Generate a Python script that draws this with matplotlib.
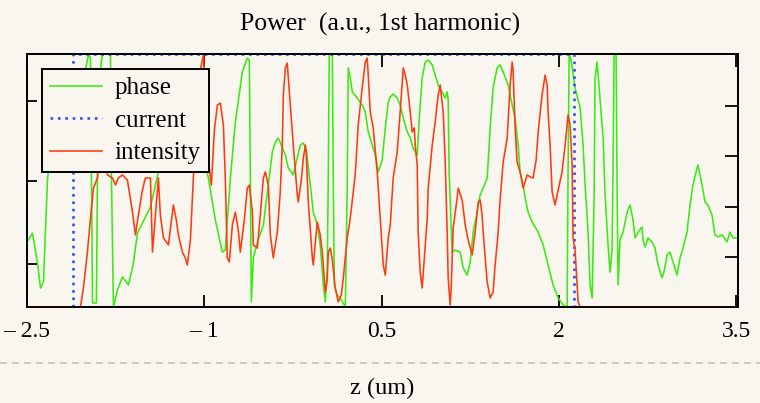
import matplotlib
matplotlib.use("Agg")
import matplotlib.pyplot as plt
from matplotlib.lines import Line2D

plt.rcParams['font.family'] = ['Liberation Serif', 'DejaVu Serif']

# --- data (z in um, power in a.u. scaled to plot height) ---
phase_z = [-2.50, -2.454, -2.411, -2.386, -2.361, -2.344, -2.327, -2.259, -2.175, -2.090,
           -2.006, -1.980, -1.963, -1.955, -1.946, -1.913, -1.904, -1.879, -1.862, -1.794,
           -1.786, -1.769, -1.735, -1.693, -1.642, -1.600, -1.566, -1.541, -1.456, -1.414,
           -1.287, -1.161, -1.034, -0.966, -0.907, -0.848, -0.823, -0.780, -0.738, -0.679,
           -0.637, -0.620, -0.611, -0.603, -0.586, -0.552, -0.501, -0.459, -0.425, -0.400,
           -0.375, -0.315, -0.290, -0.248, -0.214, -0.189, -0.163, -0.138, -0.104, -0.079,
           -0.045, -0.020, 0.006, 0.023, 0.039, 0.048, 0.056, 0.082, 0.090, 0.099,
           0.124, 0.149, 0.192, 0.208, 0.217, 0.234, 0.251, 0.293, 0.335, 0.361,
           0.386, 0.420, 0.445, 0.470, 0.504, 0.530, 0.555, 0.572, 0.597, 0.631,
           0.656, 0.682, 0.716, 0.741, 0.766, 0.800, 0.808, 0.825, 0.842, 0.868,
           0.893, 0.927, 0.952, 0.977, 1.011, 1.037, 1.054, 1.062, 1.070, 1.096,
           1.121, 1.163, 1.189, 1.223, 1.248, 1.273, 1.307, 1.332, 1.358, 1.392,
           1.417, 1.442, 1.476, 1.501, 1.527, 1.561, 1.569, 1.603, 1.628, 1.654,
           1.670, 1.696, 1.713, 1.738, 1.772, 1.823, 1.865, 1.907, 1.949, 1.992,
           2.034, 2.068, 2.076, 2.085, 2.101, 2.135, 2.178, 2.203, 2.220, 2.245,
           2.262, 2.279, 2.296, 2.304, 2.321, 2.347, 2.372, 2.389, 2.414, 2.431,
           2.448, 2.456, 2.465, 2.482, 2.490, 2.499, 2.515, 2.541, 2.575, 2.600,
           2.625, 2.642, 2.668, 2.701, 2.710, 2.727, 2.752, 2.786, 2.811, 2.837,
           2.870, 2.887, 2.913, 2.938, 2.963, 2.997, 3.023, 3.048, 3.082, 3.107,
           3.132, 3.166, 3.175, 3.209, 3.234, 3.259, 3.293, 3.318, 3.344, 3.378,
           3.420, 3.445, 3.471, 3.504]
phase_v = [0.257, 0.292, 0.174, 0.075, 0.099, 0.304, 0.502, 0.779, 0.700, 0.818,
           0.937, 0.996, 0.984, 0.522, 0.016, 0.016, 0.522, 0.937, 1.0, 1.0,
           0.522, 0.0, 0.067, 0.119, 0.087, 0.174, 0.292, 0.316, 0.395, 0.482,
           0.739, 0.779, 0.660, 0.510, 0.344, 0.217, 0.225, 0.510, 0.731, 0.929,
           0.984, 0.976, 0.510, 0.020, 0.194, 0.257, 0.324, 0.482, 0.613, 0.652,
           0.668, 0.601, 0.549, 0.522, 0.589, 0.640, 0.648, 0.621, 0.482, 0.375,
           0.324, 0.245, 0.087, 0.020, 0.146, 0.510, 1.0, 1.0, 0.510, 0.087,
           0.047, 0.036, 0.0, 0.470, 0.945, 0.905, 0.850, 0.826, 0.798, 0.771,
           0.692, 0.640, 0.601, 0.534, 0.581, 0.708, 0.810, 0.830, 0.842, 0.826,
           0.798, 0.747, 0.692, 0.668, 0.628, 0.601, 0.668, 0.798, 0.905, 0.968,
           0.976, 0.957, 0.917, 0.877, 0.850, 0.826, 0.850, 0.818, 0.534, 0.217,
           0.225, 0.217, 0.154, 0.126, 0.178, 0.296, 0.375, 0.443, 0.470, 0.510,
           0.708, 0.866, 0.945, 0.957, 0.929, 0.889, 0.877, 0.798, 0.747, 0.640,
           0.534, 0.482, 0.431, 0.375, 0.336, 0.296, 0.245, 0.166, 0.087, 0.036,
           0.008, 0.0, 0.534, 1.0, 0.976, 0.866, 0.787, 0.640, 0.482, 0.296,
           0.087, 0.036, 0.423, 0.905, 0.968, 0.818, 0.668, 0.443, 0.245, 0.138,
           0.225, 0.534, 1.0, 1.0, 0.502, 0.087, 0.265, 0.296, 0.375, 0.403,
           0.344, 0.273, 0.296, 0.316, 0.265, 0.237, 0.273, 0.257, 0.233, 0.166,
           0.115, 0.138, 0.206, 0.217, 0.178, 0.126, 0.194, 0.233, 0.296, 0.403,
           0.482, 0.549, 0.561, 0.482, 0.415, 0.403, 0.364, 0.285, 0.277, 0.285,
           0.257, 0.296, 0.273, 0.273]

# current is a flat-top pulse (zero outside it, hidden under the red trace)
current_z = [-2.107, -2.107, 2.127, 2.127]
current_v = [0.0, 1.0, 1.0, 0.0]

intensity_z = [-2.50, -2.048, -2.023, -1.989, -1.963, -1.938, -1.904, -1.879, -1.853, -1.820,
               -1.777, -1.752, -1.727, -1.693, -1.651, -1.608, -1.583, -1.558, -1.524, -1.499,
               -1.456, -1.439, -1.414, -1.389, -1.372, -1.346, -1.304, -1.262, -1.237, -1.220,
               -1.186, -1.161, -1.144, -1.118, -1.093, -1.068, -1.034, -1.008, -0.992, -0.966,
               -0.941, -0.915, -0.890, -0.865, -0.839, -0.823, -0.806, -0.789, -0.763, -0.738,
               -0.713, -0.696, -0.662, -0.637, -0.620, -0.594, -0.586, -0.552, -0.527, -0.501,
               -0.484, -0.459, -0.442, -0.417, -0.383, -0.358, -0.341, -0.332, -0.315, -0.299,
               -0.290, -0.273, -0.248, -0.214, -0.206, -0.180, -0.163, -0.146, -0.138, -0.121,
               -0.087, -0.079, -0.045, -0.020, -0.003, 0.023, 0.039, 0.048, 0.065, 0.082,
               0.107, 0.132, 0.158, 0.175, 0.208, 0.234, 0.259, 0.276, 0.301, 0.335,
               0.361, 0.377, 0.386, 0.403, 0.428, 0.462, 0.487, 0.513, 0.530, 0.555,
               0.572, 0.597, 0.631, 0.656, 0.682, 0.699, 0.716, 0.741, 0.758, 0.775,
               0.783, 0.800, 0.808, 0.825, 0.842, 0.859, 0.885, 0.893, 0.927, 0.952,
               0.977, 0.994, 1.020, 1.037, 1.054, 1.062, 1.079, 1.087, 1.104, 1.138,
               1.147, 1.180, 1.206, 1.231, 1.265, 1.290, 1.316, 1.332, 1.349, 1.358,
               1.375, 1.392, 1.417, 1.442, 1.459, 1.485, 1.501, 1.527, 1.561, 1.586,
               1.603, 1.611, 1.628, 1.645, 1.670, 1.696, 1.730, 1.755, 1.780, 1.806,
               1.823, 1.856, 1.882, 1.899, 1.907, 1.924, 1.941, 1.966, 1.992, 2.025,
               2.051, 2.068, 2.076, 2.093, 2.110, 2.118, 2.135, 2.152, 2.161, 2.178,
               3.51]
intensity_v = [0, 0, 0.075, 0.217, 0.352, 0.470, 0.510, 0.700, 0.660, 0.522,
               0.510, 0.482, 0.510, 0.522, 0.502, 0.375, 0.285, 0.364, 0.462, 0.510,
               0.510, 0.217, 0.364, 0.510, 0.364, 0.273, 0.245, 0.403, 0.344, 0.285,
               0.217, 0.194, 0.166, 0.265, 0.510, 0.739, 0.937, 0.996, 0.858, 0.581,
               0.482, 0.700, 0.798, 0.806, 0.719, 0.510, 0.194, 0.178, 0.324, 0.375,
               0.304, 0.217, 0.344, 0.470, 0.482, 0.375, 0.245, 0.233, 0.364, 0.510,
               0.534, 0.482, 0.285, 0.194, 0.296, 0.455, 0.640, 0.838, 0.945, 0.964,
               0.905, 0.798, 0.640, 0.443, 0.415, 0.502, 0.589, 0.640, 0.601, 0.415,
               0.194, 0.166, 0.336, 0.285, 0.217, 0.059, 0.107, 0.217, 0.233, 0.186,
               0.075, 0.020, 0.047, 0.115, 0.273, 0.352, 0.455, 0.522, 0.719, 0.866,
               0.968, 0.984, 0.917, 0.771, 0.708, 0.534, 0.352, 0.166, 0.126, 0.273,
               0.324, 0.510, 0.613, 0.771, 0.945, 0.917, 0.877, 0.771, 0.692, 0.708,
               0.640, 0.561, 0.296, 0.138, 0.075, 0.186, 0.352, 0.470, 0.640, 0.731,
               0.838, 0.877, 0.771, 0.573, 0.285, 0.115, 0.008, 0.067, 0.312, 0.431,
               0.470, 0.423, 0.324, 0.265, 0.206, 0.296, 0.415, 0.423, 0.364, 0.296,
               0.194, 0.099, 0.036, 0.059, 0.166, 0.296, 0.423, 0.573, 0.668, 0.877,
               0.968, 0.937, 0.708, 0.573, 0.534, 0.470, 0.522, 0.514, 0.510, 0.581,
               0.692, 0.838, 0.917, 0.877, 0.771, 0.640, 0.455, 0.403, 0.462, 0.534,
               0.640, 0.719, 0.759, 0.719, 0.561, 0.273, 0.225, 0.087, 0.020, 0.0,
               0.0]

x_ticks = [-2.5, -1, 0.5, 2, 3.5]
x_ticklabels = ['\u2013 2.5', '\u2013 1', '0.5', '2', '3.5']
left_ticks = [0.17, 0.498, 0.814]
right_ticks = [0.198, 0.395, 0.597, 0.794]

bg = '#f9f6ef'
green = '#3aea12'
blue = '#2a55f0'
red = '#ff3a10'

fig = plt.figure(figsize=(7.6, 4.03), dpi=100)
fig.patch.set_facecolor(bg)
ax = fig.add_axes([27 / 760, 96 / 403, 711 / 760, 253 / 403])
ax.set_facecolor(bg)

ax.plot(phase_z, phase_v, color=green, lw=1.15, label='phase', zorder=3)
ax.plot(current_z, current_v, color=blue, lw=1.9, ls=(0, (1, 1.8)), label='current',
        zorder=3.5, clip_on=False)
ax.plot(intensity_z, intensity_v, color=red, lw=1.15, label='intensity', zorder=4,
        clip_on=False)

ax.set_xlim(-2.5, 3.513)
ax.set_ylim(0, 1)
for s in ax.spines.values():
    s.set_linewidth(1.3)
    s.set_color('black')

ax.set_xticks(x_ticks)
ax.set_xticklabels(x_ticklabels, fontsize=17)
ax.tick_params(axis='x', direction='in', length=9, width=1.3, top=True, pad=10)
ax.set_yticks(left_ticks)
ax.set_yticklabels([])
ax.tick_params(axis='y', direction='in', length=7.5, width=1.3)

ax2 = ax.twinx()
ax2.set_ylim(0, 1)
ax2.set_yticks(right_ticks)
ax2.set_yticklabels([])
ax2.tick_params(axis='y', direction='in', length=9.5, width=1.3)
for s in ax2.spines.values():
    s.set_linewidth(1.3)

leg = ax.legend(loc='upper left', bbox_to_anchor=(0.021, 0.941), borderaxespad=0,
                frameon=True, fancybox=False, edgecolor='black', facecolor=bg,
                framealpha=1, fontsize=18, handlelength=2.1, handletextpad=0.5,
                borderpad=0.32, labelspacing=0.4)
leg.get_frame().set_linewidth(1.4)
leg.set_zorder(10)

fig.text(0.5, 0.94, 'Power  (a.u., 1st harmonic)', ha='center', va='center', fontsize=18.5)
fig.add_artist(Line2D([0, 1], [0.099, 0.099], transform=fig.transFigure,
                      color='#c4c4c4', lw=1.2, ls=(0, (4.2, 3))))
fig.text(382.5 / 760, 0.037, 'z (um)', ha='center', va='center', fontsize=17.5)

fig.savefig('out.png', dpi=100, facecolor=bg)
